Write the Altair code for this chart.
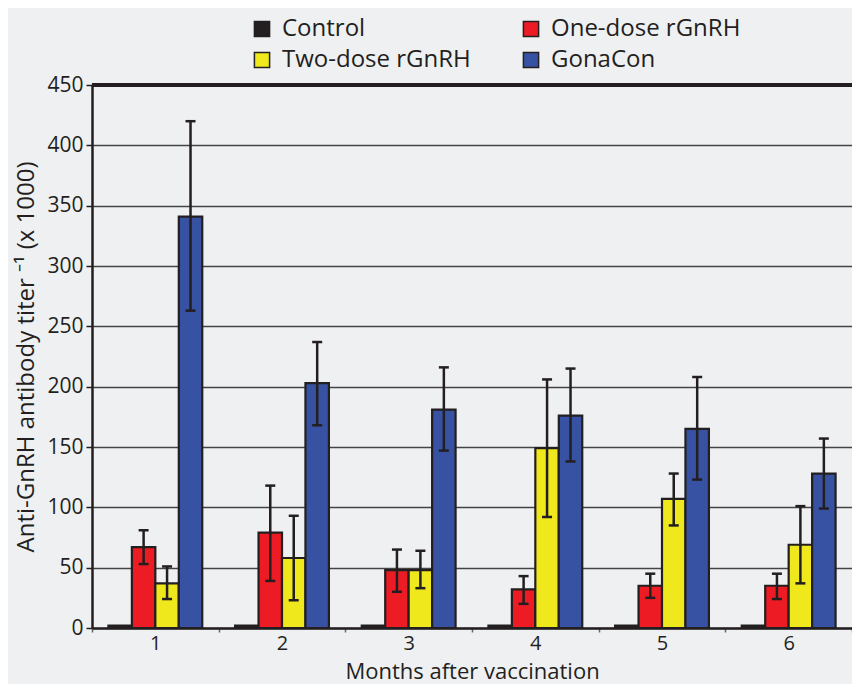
import altair as alt
import pandas as pd

months = ["1", "2", "3", "4", "5", "6"]
groups = ["Control", "One-dose rGnRH", "Two-dose rGnRH", "GonaCon"]
colors = ["#231f20", "#ed1c24", "#efe81c", "#3852a3"]
legend_order = ["Control", "Two-dose rGnRH", "One-dose rGnRH", "GonaCon"]

control = [2, 2, 2, 2, 2, 2]
one_dose = [67, 79, 48, 32, 35, 35]
two_dose = [37, 58, 48, 149, 107, 69]
gonacon = [341, 203, 181, 176, 165, 128]

one_low = [53, 39, 30, 20, 25, 24]
one_high = [81, 118, 65, 43, 45, 45]
two_low = [24, 23, 33, 92, 85, 37]
two_high = [51, 93, 64, 206, 128, 101]
gona_low = [263, 168, 147, 138, 123, 99]
gona_high = [420, 237, 216, 215, 208, 157]

rows = []
for i, m in enumerate(months):
    rows.append(dict(month=m, group=groups[0], value=control[i], low=None, high=None))
    rows.append(dict(month=m, group=groups[1], value=one_dose[i], low=one_low[i], high=one_high[i]))
    rows.append(dict(month=m, group=groups[2], value=two_dose[i], low=two_low[i], high=two_high[i]))
    rows.append(dict(month=m, group=groups[3], value=gonacon[i], low=gona_low[i], high=gona_high[i]))
df = pd.DataFrame(rows)

FONT = "Open Sans"
DARK = "#231f20"

x_enc = alt.X("month:N", sort=months,
              scale=alt.Scale(paddingInner=0, paddingOuter=0),
              axis=alt.Axis(title="Months after vaccination", labelAngle=0,
                            tickBand="extent", labelFontSize=20, titleFontSize=22,
                            labelPadding=1, titleBaseline="alphabetic", titleY=50,
                            labelColor=DARK, titleColor=DARK, titleFontWeight="normal",
                            domainColor=DARK, domainWidth=2.5, tickColor="#666",
                            tickWidth=1.5, tickSize=4))
xo_enc = alt.XOffset("group:N", sort=groups,
                     scale=alt.Scale(paddingOuter=0.7, paddingInner=0))
y_scale = alt.Scale(domain=[0, 450], nice=False)

bars = alt.Chart(df).mark_bar(stroke=DARK, strokeWidth=2.2).encode(
    x=x_enc,
    xOffset=xo_enc,
    y=alt.Y("value:Q", scale=y_scale,
            axis=alt.Axis(title="Anti-GnRH antibody titer \u207b\u00b9  (x 1000)",
                          values=list(range(0, 451, 50)),
                          labelFontSize=21, titleFontSize=24, labelColor=DARK,
                          titleColor=DARK, titleFontWeight="normal",
                          titlePadding=8, labelPadding=3,
                          domainColor=DARK, domainWidth=2.5, tickColor=DARK,
                          tickWidth=1.5, tickSize=6,
                          grid=True, gridColor="#444", gridWidth=1.3)),
    color=alt.Color("group:N", sort=groups,
                    scale=alt.Scale(domain=groups, range=colors),
                    legend=alt.Legend(title=None, orient="none", legendX=158, legendY=-68,
                                      values=legend_order,
                                      columns=2, symbolType="square", symbolSize=230,
                                      symbolStrokeColor=DARK, symbolStrokeWidth=1.5,
                                      symbolOpacity=1,
                                      labelFontSize=24, labelColor=DARK, labelOffset=8,
                                      rowPadding=7, columnPadding=48, labelLimit=300)),
)

err = alt.Chart(df).transform_filter("datum.low != null")

rules = err.mark_rule(color=DARK, strokeWidth=2.5).encode(
    x=alt.X("month:N", sort=months), xOffset=xo_enc,
    y=alt.Y("low:Q", scale=y_scale), y2="high:Q")
cap_hi = err.mark_tick(color=DARK, size=10, thickness=2.5, opacity=1).encode(
    x=alt.X("month:N", sort=months), xOffset=xo_enc,
    y=alt.Y("high:Q", scale=y_scale))
cap_lo = err.mark_tick(color=DARK, size=10, thickness=2.5, opacity=1).encode(
    x=alt.X("month:N", sort=months), xOffset=xo_enc,
    y=alt.Y("low:Q", scale=y_scale))

top = alt.Chart(df).mark_rule(color=DARK, strokeWidth=3).encode(y=alt.datum(450))

chart = alt.layer(bars, rules, cap_hi, cap_lo, top).properties(
    width=760, height=543,
    autosize=alt.AutoSizeParams(type="none"),
    padding={"left": 84, "top": 77, "right": 0, "bottom": 56},
    background="#eff0f2",
).configure_view(fill="white", stroke=None).configure(font=FONT)

chart.save("out.html", embed_options={"renderer": "svg", "actions": False})
